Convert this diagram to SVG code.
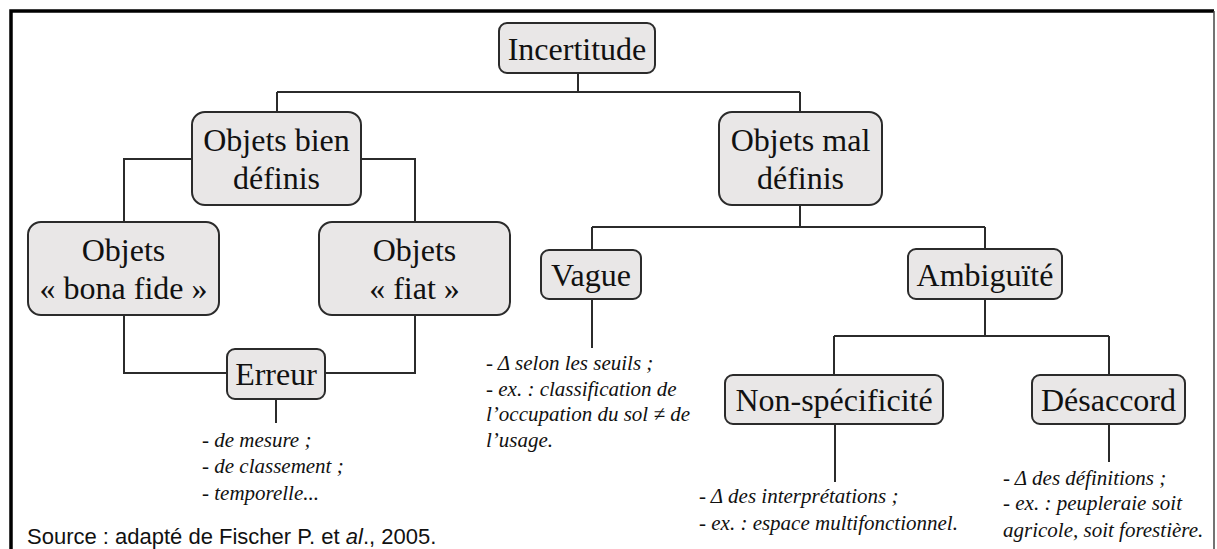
<svg xmlns="http://www.w3.org/2000/svg" width="1217" height="549" viewBox="0 0 1217 549">
  <style>
    .box { fill: #e9e7e7; stroke: #2b2b2b; stroke-width: 2; }
    .serif { font-family: 'Liberation Serif', Tinos, 'Times New Roman', Times, 'Nimbus Roman', 'Noto Serif', 'DejaVu Serif', FreeSerif, serif; }
    .lbl { font-size: 32px; fill: #111; text-anchor: middle; }
    .note { font-size: 21px; font-style: italic; fill: #111; }
    .src { font-family: 'Liberation Sans', Arial, sans-serif; font-size: 22px; fill: #111; }
    .link { fill: none; stroke: #2b2b2b; stroke-width: 2; }
  </style>
  <rect width="1217" height="549" fill="#fff"/>
  <!-- frame: heavy top and left edges, light right edge -->
  <path d="M11 549 V11 H1214" fill="none" stroke="#000" stroke-width="3.5"/>
  <path d="M1214 11 V549" fill="none" stroke="#444" stroke-width="1.5"/>

  <g id="connectors">
    <path class="link" d="M578 73 V92 M277 92 H800 M277 92 V112 M800 92 V112"/>
    <path class="link" d="M192 159 H124 V222 M361 159 H415 V222"/>
    <path class="link" d="M124 315 V373 H227 M415 315 V373 H325"/>
    <path class="link" d="M276 399 V423"/>
    <path class="link" d="M800 205 V227 M592 227 H985 M592 227 V250 M985 227 V249"/>
    <path class="link" d="M592 299 V348"/>
    <path class="link" d="M985 299 V336 M834 336 H1109 M834 336 V375 M1109 336 V375"/>
    <path class="link" d="M835 424 V482 M1109 424 V462"/>
  </g>

  <g class="serif">
  <g id="incertitude">
    <rect class="box" x="499" y="23" width="156" height="50" rx="8"/>
    <text class="lbl" x="577" y="60">Incertitude</text>
  </g>
  <g id="objets-bien-definis">
    <rect class="box" x="192" y="112" width="169" height="93" rx="13"/>
    <text class="lbl" x="276.5" y="151">Objets bien</text>
    <text class="lbl" x="276.5" y="189">définis</text>
  </g>
  <g id="objets-mal-definis">
    <rect class="box" x="719" y="112" width="163" height="93" rx="13"/>
    <text class="lbl" x="800.5" y="151">Objets mal</text>
    <text class="lbl" x="800.5" y="189">définis</text>
  </g>
  <g id="objets-bona-fide">
    <rect class="box" x="28" y="222" width="191" height="93" rx="13"/>
    <text class="lbl" x="123.5" y="261">Objets</text>
    <text class="lbl" x="123.5" y="299">« bona fide »</text>
  </g>
  <g id="objets-fiat">
    <rect class="box" x="319" y="222" width="191" height="93" rx="13"/>
    <text class="lbl" x="414.5" y="261">Objets</text>
    <text class="lbl" x="414.5" y="299">« fiat »</text>
  </g>
  <g id="erreur">
    <rect class="box" x="227" y="349" width="98" height="50" rx="8"/>
    <text class="lbl" x="276" y="385">Erreur</text>
    <text class="note" x="202" y="447">- de mesure ;</text>
    <text class="note" x="202" y="473">- de classement ;</text>
    <text class="note" x="202" y="500">- temporelle...</text>
  </g>
  <g id="vague">
    <rect class="box" x="541" y="250" width="100" height="49" rx="8"/>
    <text class="lbl" x="591" y="286">Vague</text>
    <text class="note" x="486" y="370">- Δ selon les seuils ;</text>
    <text class="note" x="486" y="396">- ex. : classification de</text>
    <text class="note" x="486" y="421">l’occupation du sol ≠ de</text>
    <text class="note" x="486" y="447">l’usage.</text>
  </g>
  <g id="ambiguite">
    <rect class="box" x="908" y="249" width="154" height="50" rx="8"/>
    <text class="lbl" x="985" y="286">Ambiguïté</text>
  </g>
  <g id="non-specificite">
    <rect class="box" x="725" y="375" width="218" height="49" rx="8"/>
    <text class="lbl" x="834" y="411">Non-spécificité</text>
    <text class="note" x="699" y="503">- Δ des interprétations ;</text>
    <text class="note" x="699" y="530">- ex. : espace multifonctionnel.</text>
  </g>
  <g id="desaccord">
    <rect class="box" x="1032" y="375" width="153" height="49" rx="8"/>
    <text class="lbl" x="1108.5" y="411">Désaccord</text>
    <text class="note" x="1003" y="485">- Δ des définitions ;</text>
    <text class="note" x="1003" y="510">- ex. : peupleraie soit</text>
    <text class="note" x="1003" y="537">agricole, soit forestière.</text>
  </g>
  </g>

  <text class="src" x="27" y="544">Source : adapté de Fischer P. et <tspan font-style="italic">al</tspan>., 2005.</text>
</svg>
